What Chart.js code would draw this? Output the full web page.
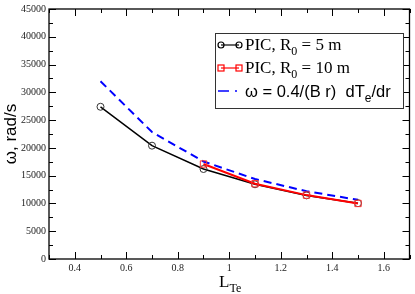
<!DOCTYPE html>
<html>
<head>
<meta charset="utf-8">
<script src="https://cdn.jsdelivr.net/npm/chart.js@4/dist/chart.umd.min.js"></script>
<style>
  body { margin: 0; background: #fff; }
  #wrap { width: 415px; height: 294px; }
</style>
</head>
<body>
<div id="wrap"><canvas id="chart" width="415" height="294"></canvas></div>
<script>
// L_Te values and omega (rad/s)
const lte = [0.5, 0.7, 0.9, 1.1, 1.3, 1.5]
const picR5 = [27400, 20400, 16200, 13450, 11450, 10050]
const lteR10 = [0.9, 1.1, 1.3, 1.5]
const picR10 = [17100, 13550, 11500, 10000]
const analytic = [32000, 22850, 17550, 14400, 12200, 10650]

const xTicks = [0.4, 0.6, 0.8, 1.0, 1.2, 1.4, 1.6]
const yTicks = [0, 5000, 10000, 15000, 20000, 25000, 30000, 35000, 40000, 45000]

const SERIF = "'Liberation Serif', 'Times New Roman', serif"
const SANS = "'Liberation Sans', Arial, sans-serif"

const pairs = (xs, ys) => xs.map((x, i) => ({ x, y: ys[i] }))

// draws text pieces, some as subscripts
const drawRich = (ctx, parts, x, y, size, family) => {
  ctx.textAlign = "left"
  ctx.textBaseline = "alphabetic"
  let cx = x
  parts.forEach((p) => {
    const s = p.sub ? Math.round(size * 0.72) : size
    ctx.font = s + "px " + family
    ctx.fillText(p.t, cx, p.sub ? y + size * 0.3 : y)
    cx += ctx.measureText(p.t).width
  })
}

const framePlugin = {
  id: "frame",
  afterDraw(chart) {
    const ctx = chart.ctx
    const a = chart.chartArea
    const xs = chart.scales.x
    const ys = chart.scales.y
    ctx.save()
    ctx.strokeStyle = "#000"
    ctx.lineWidth = 1.3
    ctx.strokeRect(a.left, a.top, a.right - a.left, a.bottom - a.top)

    ctx.lineWidth = 1
    ctx.beginPath()
    for (let v = 0.3; v <= 1.7001; v += 0.1) {
      const px = Math.round(xs.getPixelForValue(v)) + 0.5
      const major = Math.abs(v * 5 - Math.round(v * 5)) < 0.01
      const len = major ? 7 : 4
      ctx.moveTo(px, a.bottom); ctx.lineTo(px, a.bottom - len)
      ctx.moveTo(px, a.top); ctx.lineTo(px, a.top + len)
    }
    for (let v = 0; v <= 45000; v += 2500) {
      const py = Math.round(ys.getPixelForValue(v)) + 0.5
      const len = v % 5000 === 0 ? 7 : 4
      ctx.moveTo(a.left, py); ctx.lineTo(a.left + len, py)
      ctx.moveTo(a.right, py); ctx.lineTo(a.right - len, py)
    }
    ctx.stroke()

    // axis titles
    ctx.fillStyle = "#000"
    drawRich(ctx, [{ t: "L" }, { t: "Te", sub: true }], 219, 287, 17, SERIF)
    ctx.save()
    ctx.translate(16, 134)
    ctx.rotate(-Math.PI / 2)
    ctx.font = "17px " + SANS
    ctx.textAlign = "center"
    ctx.textBaseline = "alphabetic"
    ctx.fillText("ω, rad/s", 0, 0)
    ctx.restore()

    // legend
    const lx = 215, ly = 33, lw = 188, lh = 75
    ctx.fillStyle = "#fff"
    ctx.fillRect(lx, ly, lw, lh)
    ctx.strokeStyle = "#333"
    ctx.lineWidth = 1
    ctx.strokeRect(lx + 0.5, ly + 0.5, lw, lh)

    const r1 = 45, r2 = 68, r3 = 91
    ctx.strokeStyle = "#000"
    ctx.lineWidth = 1.2
    ctx.beginPath(); ctx.moveTo(221, r1); ctx.lineTo(239, r1); ctx.stroke()
    ctx.beginPath(); ctx.arc(221, r1, 3, 0, Math.PI * 2); ctx.stroke()
    ctx.beginPath(); ctx.arc(239, r1, 3, 0, Math.PI * 2); ctx.stroke()

    ctx.strokeStyle = "#ff0000"
    ctx.beginPath(); ctx.moveTo(221, r2); ctx.lineTo(239, r2); ctx.stroke()
    ctx.strokeRect(218, r2 - 3, 6, 6)
    ctx.strokeRect(236, r2 - 3, 6, 6)

    ctx.strokeStyle = "#0000ff"
    ctx.lineWidth = 1.5
    ctx.beginPath(); ctx.moveTo(218, r3); ctx.lineTo(229, r3)
    ctx.moveTo(235, r3); ctx.lineTo(237, r3); ctx.stroke()

    ctx.fillStyle = "#000"
    drawRich(ctx, [{ t: "PIC, R" }, { t: "0", sub: true }, { t: " = 5 m" }], 245, r1 + 5, 17, SERIF)
    drawRich(ctx, [{ t: "PIC, R" }, { t: "0", sub: true }, { t: " = 10 m" }], 245, r2 + 5, 17, SERIF)
    drawRich(ctx, [{ t: "ω = 0.4/(B r)  dT" }, { t: "e", sub: true }, { t: "/dr" }], 245, r3 + 6, 16.5, SANS)
    ctx.restore()
  },
}

const data = {
  datasets: [
    {
      label: "PIC, R0 = 10 m",
      data: pairs(lteR10, picR10),
      showLine: true,
      borderColor: "#ff0000",
      borderWidth: 2,
      pointStyle: "rect",
      pointRadius: 4.5,
      pointBorderColor: "#ff3333",
      pointBorderWidth: 1,
      pointBackgroundColor: "rgba(0,0,0,0)",
    },
    {
      label: "PIC, R0 = 5 m",
      data: pairs(lte, picR5),
      showLine: true,
      borderColor: "#000",
      borderWidth: 1.5,
      pointStyle: "circle",
      pointRadius: 3.5,
      pointBorderColor: "#333",
      pointBorderWidth: 1,
      pointBackgroundColor: "rgba(0,0,0,0)",
    },
    {
      label: "analytic",
      data: pairs(lte, analytic),
      showLine: true,
      borderColor: "#0000ff",
      borderWidth: 2,
      borderDash: [8, 5],
      pointRadius: 0,
    },
  ],
}

new Chart(document.getElementById("chart"), {
  type: "scatter",
  data,
  options: {
    responsive: false,
    animation: false,
    layout: { padding: { top: 5, right: 1, left: 0, bottom: 0 } },
    plugins: { legend: { display: false }, tooltip: { enabled: false } },
    scales: {
      x: {
        type: "linear",
        min: 0.3,
        max: 1.7,
        afterBuildTicks: (s) => { s.ticks = xTicks.map((v) => ({ value: v })) },
        afterFit: (s) => { s.height = 35 },
        grid: { display: false, drawTicks: false },
        border: { display: false },
        ticks: {
          padding: 3,
          color: "#222",
          font: { family: SERIF, size: 10 },
          callback: (v) => String(+v.toFixed(1)),
        },
      },
      y: {
        type: "linear",
        min: 0,
        max: 45000,
        afterBuildTicks: (s) => { s.ticks = yTicks.map((v) => ({ value: v })) },
        afterFit: (s) => { s.width = 49 },
        grid: { display: false, drawTicks: false },
        border: { display: false },
        ticks: {
          padding: 3,
          color: "#222",
          font: { family: SERIF, size: 10 },
          callback: (v) => String(v),
        },
      },
    },
  },
  plugins: [framePlugin],
})
</script>
</body>
</html>
